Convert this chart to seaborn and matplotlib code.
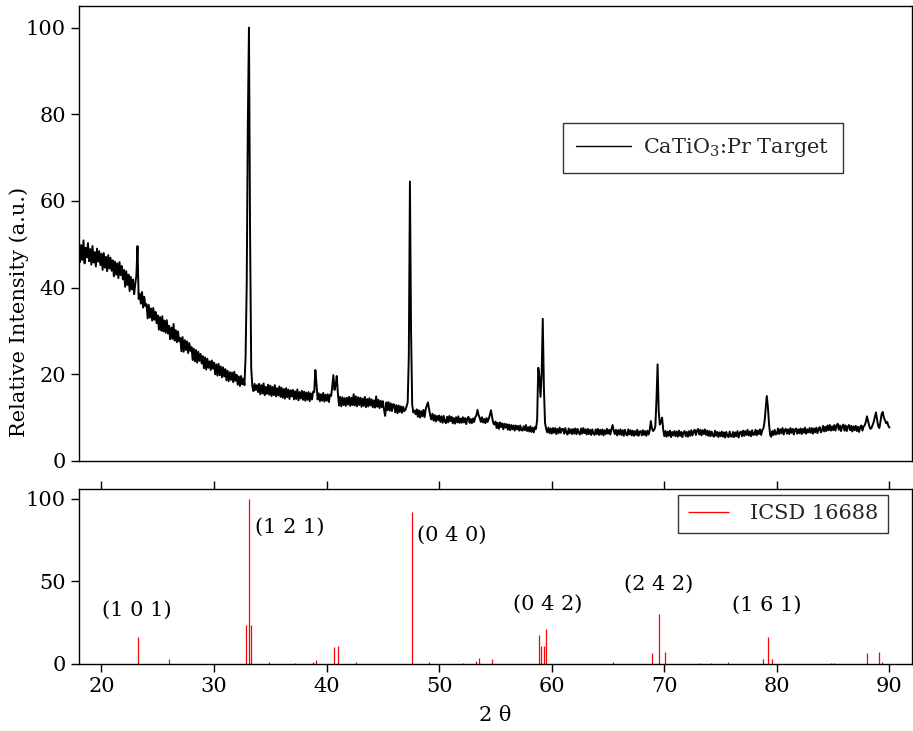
import numpy as np
import pandas as pd
import matplotlib
matplotlib.use("Agg")
import matplotlib.pyplot as plt
import seaborn as sns

# ---------------- data ----------------
TWO_THETA_START = 18.0
TWO_THETA_STEP = 0.1
# measured intensity of the CaTiO3:Pr target, one row per degree (x.0 ... x.9)
INTENSITY = [
    50.6, 45.9, 49.8, 46.4, 50.9, 45.6, 49.2, 47.0, 50.3, 46.1,   # 18
    48.9, 45.3, 49.6, 45.8, 48.2, 44.9, 49.0, 46.0, 48.4, 45.2,   # 19
    47.8, 44.1, 48.0, 44.6, 47.1, 43.8, 47.5, 44.4, 46.9, 43.9,   # 20
    46.3, 42.6, 46.0, 43.0, 45.6, 42.2, 45.9, 42.9, 45.0, 41.9,   # 21
    44.1, 40.2, 43.8, 40.6, 43.0, 39.2, 42.5, 39.6, 41.9, 38.5,   # 22
    40.9, 42.8, 49.6, 37.4, 38.6, 36.3, 39.0, 35.4, 37.9, 35.8,   # 23
    36.2, 32.9, 36.0, 33.1, 35.2, 32.4, 35.3, 32.6, 34.4, 31.8,   # 24
    33.6, 30.3, 33.2, 30.1, 33.4, 29.9, 32.4, 29.6, 32.5, 29.4,   # 25
    31.2, 28.1, 30.8, 28.2, 31.6, 27.8, 30.2, 27.4, 29.9, 27.6,   # 26
    28.4, 25.3, 28.6, 25.2, 27.9, 25.6, 27.6, 24.9, 27.2, 25.4,   # 27
    26.3, 23.3, 25.9, 23.0, 25.6, 22.7, 25.2, 23.1, 24.7, 22.5,   # 28
    24.2, 21.4, 23.9, 21.1, 23.6, 21.5, 23.0, 21.0, 23.2, 21.3,   # 29
    22.7, 20.0, 22.3, 19.7, 22.4, 19.8, 21.8, 19.3, 21.6, 19.5,   # 30
    21.2, 18.6, 20.8, 18.4, 20.5, 18.7, 20.4, 18.2, 20.6, 18.5,   # 31
    19.9, 17.6, 19.5, 17.3, 19.6, 17.7, 19.0, 17.5, 24.0, 40.5,   # 32
    78.0, 100.0, 52.0, 21.5, 17.2, 16.1, 17.8, 16.4, 17.5, 15.9,  # 33
    17.8, 15.4, 17.5, 15.6, 17.9, 15.2, 17.1, 15.5, 17.6, 15.3,   # 34
    17.4, 15.0, 17.1, 15.2, 17.5, 14.9, 16.8, 15.1, 17.2, 14.8,   # 35
    16.9, 14.6, 16.6, 14.4, 16.8, 14.7, 16.5, 14.3, 16.3, 14.9,   # 36
    16.4, 14.2, 16.1, 14.3, 16.5, 14.0, 15.9, 14.4, 16.2, 14.1,   # 37
    16.0, 13.9, 15.8, 14.1, 15.9, 13.8, 15.6, 14.2, 16.0, 15.9,   # 38
    21.0, 17.8, 14.2, 15.6, 13.8, 15.4, 13.9, 15.7, 13.7, 15.3,   # 39
    13.9, 15.4, 13.6, 15.3, 15.0, 17.2, 19.8, 16.4, 17.5, 19.6,   # 40
    15.6, 12.8, 14.8, 12.6, 14.7, 12.9, 14.5, 12.7, 14.6, 13.0,   # 41
    14.8, 12.7, 14.6, 12.9, 15.4, 12.8, 14.9, 12.6, 14.7, 12.9,   # 42
    14.6, 12.5, 14.4, 12.7, 14.8, 12.4, 14.3, 12.6, 14.5, 12.8,   # 43
    14.2, 12.4, 14.0, 12.3, 14.9, 12.5, 14.1, 12.2, 13.9, 12.4,   # 44
    13.8, 11.8, 10.4, 13.5, 11.7, 13.6, 11.6, 13.3, 11.5, 13.1,   # 45
    13.0, 11.2, 12.9, 11.0, 12.8, 11.3, 12.6, 11.1, 12.5, 11.5,   # 46
    11.8, 12.6, 13.5, 24.0, 64.5, 30.0, 13.0, 11.2, 11.6, 10.8,   # 47
    11.9, 10.2, 11.7, 10.0, 11.5, 10.3, 11.8, 10.1, 11.9, 12.8,   # 48
    13.5, 12.0, 10.5, 9.6, 10.9, 9.3, 10.6, 9.1, 10.4, 9.4,       # 49
    10.5, 9.0, 10.3, 8.8, 10.4, 9.1, 8.7, 10.2, 8.9, 10.4,        # 50
    9.2, 10.2, 8.7, 9.9, 8.6, 10.1, 8.9, 10.3, 8.8, 9.8,          # 51
    8.8, 10.1, 8.9, 9.9, 8.5, 9.8, 10.2, 8.8, 9.7, 8.7,           # 52
    9.8, 9.0, 10.1, 10.5, 11.8, 10.6, 9.9, 9.0, 10.1, 8.9,        # 53
    9.7, 8.7, 9.9, 9.0, 9.8, 10.6, 11.7, 10.1, 8.8, 8.4,          # 54
    9.1, 7.6, 8.8, 7.4, 8.9, 7.8, 8.7, 7.3, 8.6, 7.7,             # 55
    8.5, 7.2, 8.4, 7.1, 8.3, 7.3, 8.2, 7.0, 8.2, 7.3,             # 56
    8.1, 7.0, 8.2, 7.1, 7.0, 8.0, 7.1, 8.3, 6.9, 7.8,             # 57
    6.8, 8.0, 6.7, 7.7, 6.6, 7.8, 7.4, 9.5, 21.5, 19.5,           # 58
    14.8, 20.0, 32.8, 17.0, 8.8, 7.4, 6.6, 7.7, 6.4, 7.5,         # 59
    6.3, 7.6, 6.5, 7.6, 6.2, 7.4, 6.4, 7.7, 6.5, 7.4,             # 60
    7.4, 6.3, 7.6, 6.5, 6.1, 7.5, 6.4, 7.3, 6.2, 7.4,             # 61
    6.3, 7.5, 6.2, 7.4, 6.5, 6.1, 7.5, 6.3, 7.6, 6.4,             # 62
    7.3, 6.1, 7.4, 6.2, 7.2, 6.0, 7.3, 6.3, 6.0, 7.3,             # 63
    6.2, 7.4, 6.0, 7.2, 6.1, 7.3, 5.9, 7.1, 6.2, 7.4,             # 64
    6.3, 7.2, 6.1, 7.3, 8.3, 7.0, 6.2, 7.2, 5.9, 7.1,             # 65
    6.1, 7.3, 6.0, 7.1, 5.8, 7.2, 6.2, 5.9, 7.3, 6.1,             # 66
    7.1, 5.9, 7.0, 5.8, 6.9, 6.0, 7.2, 5.8, 6.8, 6.9,             # 67
    5.9, 7.1, 6.0, 6.9, 5.8, 7.0, 6.1, 7.1, 9.2, 7.5,             # 68
    6.9, 7.2, 8.0, 14.0, 22.3, 11.5, 8.4, 9.0, 10.0, 7.2,         # 69
    5.7, 6.9, 5.6, 6.8, 5.8, 7.0, 5.5, 6.7, 5.9, 6.9,             # 70
    5.7, 6.8, 5.6, 7.0, 5.8, 6.7, 5.5, 6.6, 6.9, 5.7,             # 71
    6.7, 5.6, 6.9, 5.8, 7.1, 5.9, 6.8, 7.2, 6.0, 7.0,             # 72
    7.4, 6.1, 7.2, 5.9, 7.1, 6.2, 7.3, 6.0, 7.0, 5.8,             # 73
    6.9, 5.7, 6.8, 5.9, 5.6, 7.0, 5.8, 6.7, 5.5, 6.6,             # 74
    5.7, 6.8, 5.6, 6.6, 5.4, 6.7, 5.8, 5.5, 6.8, 5.7,             # 75
    5.6, 6.7, 5.5, 6.6, 5.7, 6.9, 5.4, 6.5, 6.8, 5.7,             # 76
    7.0, 5.8, 6.9, 6.0, 7.2, 5.9, 6.8, 5.7, 7.1, 6.0,             # 77
    6.1, 7.2, 5.9, 7.0, 6.2, 7.3, 6.0, 7.1, 7.5, 9.0,             # 78
    12.0, 15.0, 12.5, 8.5, 6.0, 5.6, 6.9, 6.0, 7.2, 6.1,          # 79
    6.3, 7.5, 6.2, 7.3, 6.4, 7.6, 6.1, 7.2, 7.4, 6.3,             # 80
    7.3, 6.2, 7.6, 6.5, 7.4, 6.1, 7.2, 7.5, 6.3, 7.3,             # 81
    6.4, 7.5, 6.2, 7.4, 6.5, 7.7, 6.3, 7.3, 6.6, 7.6,             # 82
    6.5, 7.6, 6.3, 7.5, 6.6, 7.7, 6.4, 7.4, 7.8, 6.6,             # 83
    7.0, 8.1, 6.8, 7.9, 6.9, 8.2, 7.1, 8.3, 7.0, 8.0,             # 84
    7.1, 8.3, 7.0, 8.1, 8.6, 7.2, 8.2, 6.9, 8.0, 8.4,             # 85
    7.0, 8.2, 6.9, 7.9, 8.3, 7.1, 8.1, 6.8, 8.0, 7.1,             # 86
    8.1, 6.9, 7.9, 6.7, 7.8, 8.2, 7.0, 8.0, 8.2, 9.0,             # 87
    10.3, 9.2, 8.1, 7.4, 7.6, 8.3, 9.0, 10.2, 11.2, 9.5,          # 88
    8.0, 7.6, 9.1, 10.8, 11.3, 10.0, 9.4, 8.7, 9.0, 8.1,          # 89
    7.7,                                                          # 90
]

# ICSD 16688 reference reflections
STICK_POS = [23.22, 26.0, 32.82, 33.08, 33.32, 34.92, 37.2, 38.83, 39.04,
             40.64, 41.02, 42.6, 47.54, 49.05, 52.07, 53.26, 53.56, 54.65,
             58.83, 59.0, 59.27, 59.45, 65.4, 68.9, 69.5, 70.06, 73.11,
             74.15, 75.63, 78.8, 79.22, 79.6, 84.82, 85.05, 88.04, 89.08,
             89.3]
STICK_HEIGHT = [16.5, 3.0, 23.8, 100.0, 23.8, 1.0, 0.4, 1.0, 2.2,
                10.4, 10.6, 1.0, 91.9, 1.0, 0.4, 1.5, 3.6, 3.2,
                17.8, 10.7, 11.0, 21.4, 1.0, 6.7, 30.0, 7.3, 0.6,
                0.6, 1.0, 3.0, 16.3, 3.3, 0.8, 0.6, 6.4, 7.1,
                1.0]

HKL_LABELS = ["(1 0 1)", "(1 2 1)", "(0 4 0)", "(0 4 2)", "(2 4 2)", "(1 6 1)"]
HKL_X = [23.1, 36.7, 51.1, 59.6, 69.5, 79.1]
HKL_Y = [32.7, 83.0, 78.0, 36.4, 48.5, 35.8]

TRACE_LABEL = "CaTiO$_3$:Pr Target"
REF_LABEL = "ICSD 16688"

# ---------------- style ----------------
sns.set_theme(style="ticks")
plt.rcParams["font.family"] = ["DejaVu Serif"]
plt.rcParams["mathtext.fontset"] = "dejavuserif"
plt.rcParams["axes.edgecolor"] = "black"
plt.rcParams["axes.linewidth"] = 1.0
FS = 15

two_theta = np.round(TWO_THETA_START + TWO_THETA_STEP * np.arange(len(INTENSITY)), 2)
trace = pd.DataFrame({"two_theta": two_theta, "intensity": INTENSITY})

fig = plt.figure(figsize=(9.13, 7.31), dpi=100)
ax1 = fig.add_axes([0.0865, 0.3694, 0.9124, 0.6224])
ax2 = fig.add_axes([0.0865, 0.0917, 0.9124, 0.2394])

sns.lineplot(data=trace, x="two_theta", y="intensity", ax=ax1, color="black",
             lw=1.4, estimator=None, sort=False, label=TRACE_LABEL)
ax1.set_xlim(18, 92)
ax1.set_ylim(0, 105)
ax1.set_yticks([0, 20, 40, 60, 80, 100])
ax1.tick_params(axis="x", bottom=False, labelbottom=False)
ax1.tick_params(axis="y", direction="out", length=6, width=1, labelsize=FS, colors="black")
ax1.set_xlabel("")
ax1.set_ylabel("Relative Intensity (a.u.)", fontsize=FS, color="black")
ax1.yaxis.set_label_coords(-0.060, 0.327)
for s in ax1.spines.values():
    s.set_visible(True)
    s.set_color("black")
leg1 = ax1.legend(loc="upper right", bbox_to_anchor=(0.917, 0.743), fontsize=FS,
                  frameon=True, fancybox=False, edgecolor="black", handlelength=2.6,
                  borderpad=0.65, handletextpad=0.6, borderaxespad=0.0)
leg1.get_frame().set_linewidth(1.0)
for h in leg1.get_lines():
    h.set_linewidth(1.0)

ax2.vlines(STICK_POS, 0, STICK_HEIGHT, color="red", lw=0.9, label=REF_LABEL)
ax2.set_xlim(18, 92)
ax2.set_ylim(0, 106)
ax2.set_yticks([0, 50, 100])
ax2.set_xticks([20, 30, 40, 50, 60, 70, 80, 90])
ax2.tick_params(axis="x", top=True, bottom=True, direction="out", length=6, width=1,
                labelsize=FS, colors="black")
ax2.tick_params(axis="y", direction="out", length=6, width=1, labelsize=FS, colors="black")
ax2.set_xlabel("2 θ", fontsize=FS, color="black", labelpad=7)
for s in ax2.spines.values():
    s.set_visible(True)
    s.set_color("black")
for lab, hx, hy in zip(HKL_LABELS, HKL_X, HKL_Y):
    ax2.text(hx, hy, lab, ha="center", va="center", fontsize=FS, color="black")
leg2 = ax2.legend(loc="upper right", bbox_to_anchor=(0.971, 0.966), fontsize=FS,
                  frameon=True, fancybox=False, edgecolor="black", handlelength=2.0,
                  borderpad=0.45, handletextpad=1.0, borderaxespad=0.0)
leg2.get_frame().set_linewidth(1.0)

fig.savefig("out.png", dpi=100)
